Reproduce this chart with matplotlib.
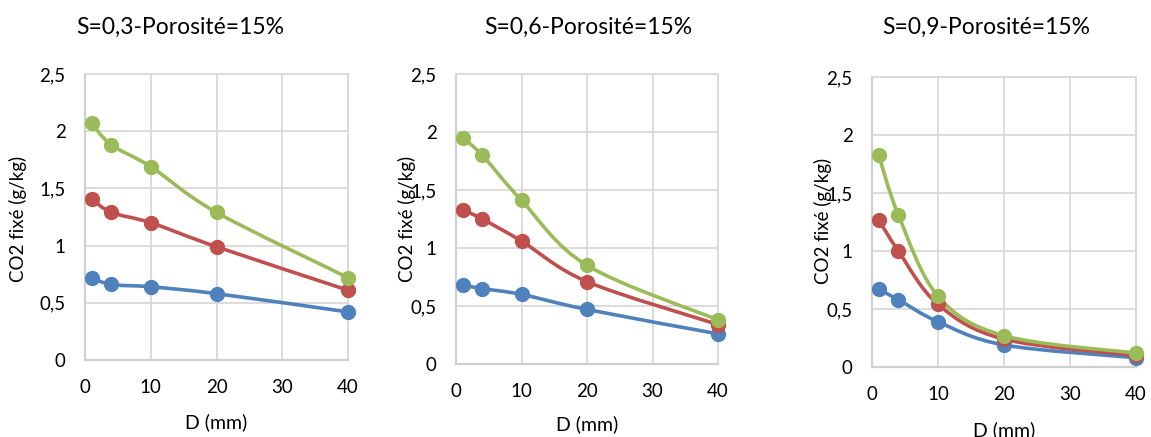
import numpy as np
import matplotlib
matplotlib.use("Agg")
import matplotlib.pyplot as plt
from matplotlib.path import Path
from matplotlib.patches import PathPatch

plt.rcParams['font.family'] = ['Lato', 'DejaVu Sans']

# ---------------------------------------------------------------------------
# Data
# ---------------------------------------------------------------------------
D = [1, 4, 10, 20, 40]

titles = ["S=0,3-Porosité=15%", "S=0,6-Porosité=15%", "S=0,9-Porosité=15%"]

blue_vals = [
    [0.72, 0.66, 0.64, 0.58, 0.42],
    [0.68, 0.65, 0.60, 0.47, 0.26],
    [0.67, 0.58, 0.39, 0.19, 0.08],
]
red_vals = [
    [1.41, 1.29, 1.20, 0.99, 0.61],
    [1.33, 1.25, 1.06, 0.71, 0.34],
    [1.27, 1.00, 0.54, 0.24, 0.10],
]
green_vals = [
    [2.07, 1.88, 1.69, 1.29, 0.72],
    [1.95, 1.80, 1.41, 0.85, 0.38],
    [1.83, 1.31, 0.61, 0.27, 0.12],
]

xticks = [0, 10, 20, 30, 40]
yticks = [0, 0.5, 1, 1.5, 2, 2.5]
ytick_labels = ["0", "0,5", "1", "1,5", "2", "2,5"]

colors = ["#4F81BD", "#C0504D", "#9BBB59"]

# layout in pixels of the 1151x437 image: (left, top, right, bottom)
W, H = 1151, 437
axes_px = [(85, 74, 348, 360), (456, 74, 718, 364), (872, 77, 1136, 367)]
title_px = [(180, 27), (588, 27), (986, 27)]
ylabel_px = [(18, 219), (407, 219), (823, 221)]
xlabel_px = [(216, 422), (587, 424), (1004, 430)]


def smooth_path(x, y):
    """Excel-like smoothed line: cubic Bezier through points (Catmull-Rom)."""
    pts = np.column_stack([x, y]).astype(float)
    n = len(pts)
    verts = [pts[0]]
    codes = [Path.MOVETO]
    for i in range(n - 1):
        p0 = pts[i - 1] if i > 0 else pts[i]
        p1 = pts[i]
        p2 = pts[i + 1]
        p3 = pts[i + 2] if i + 2 < n else pts[i + 1]
        c1 = p1 + (p2 - p0) / 6.0
        c2 = p2 - (p3 - p1) / 6.0
        verts += [c1, c2, p2]
        codes += [Path.CURVE4] * 3
    return Path(verts, codes)


fig = plt.figure(figsize=(W / 100, H / 100), dpi=100)

for k in range(3):
    l, t, r, b = axes_px[k]
    ax = fig.add_axes([l / W, 1 - b / H, (r - l) / W, (b - t) / H])
    ax.set_xlim(0, 40)
    ax.set_ylim(0, 2.5)
    ax.set_xticks(xticks)
    ax.set_yticks(yticks)
    ax.set_yticklabels(ytick_labels)
    ax.tick_params(length=0, labelsize=13.5, colors="#000000")
    ax.tick_params(axis="y", pad=14)
    ax.tick_params(axis="x", pad=14)
    ax.grid(True, color="#D9D9D9", linewidth=1.3)
    ax.set_axisbelow(True)
    for side in ["top", "right"]:
        ax.spines[side].set_color("#D9D9D9")
        ax.spines[side].set_linewidth(1.3)
    for side in ["left", "bottom"]:
        ax.spines[side].set_color("#D0D0D0")
        ax.spines[side].set_linewidth(1.6)

    for vals, c in zip([blue_vals[k], red_vals[k], green_vals[k]], colors):
        patch = PathPatch(smooth_path(D, vals), facecolor="none", edgecolor=c,
                          linewidth=2.6, capstyle="round", joinstyle="round",
                          zorder=3, clip_on=False)
        ax.add_patch(patch)
        ax.plot(D, vals, linestyle="none", marker="o", markersize=10,
                color=c, zorder=4, clip_on=False)

    fig.text(title_px[k][0] / W, 1 - title_px[k][1] / H, titles[k],
             ha="center", va="center", fontsize=16.5)
    fig.text(ylabel_px[k][0] / W, 1 - ylabel_px[k][1] / H, "CO2 fixé (g/kg)",
             ha="center", va="center", rotation=90, fontsize=13.5)
    fig.text(xlabel_px[k][0] / W, 1 - xlabel_px[k][1] / H, "D (mm)",
             ha="center", va="center", fontsize=14)

fig.savefig("out.png", dpi=100)
